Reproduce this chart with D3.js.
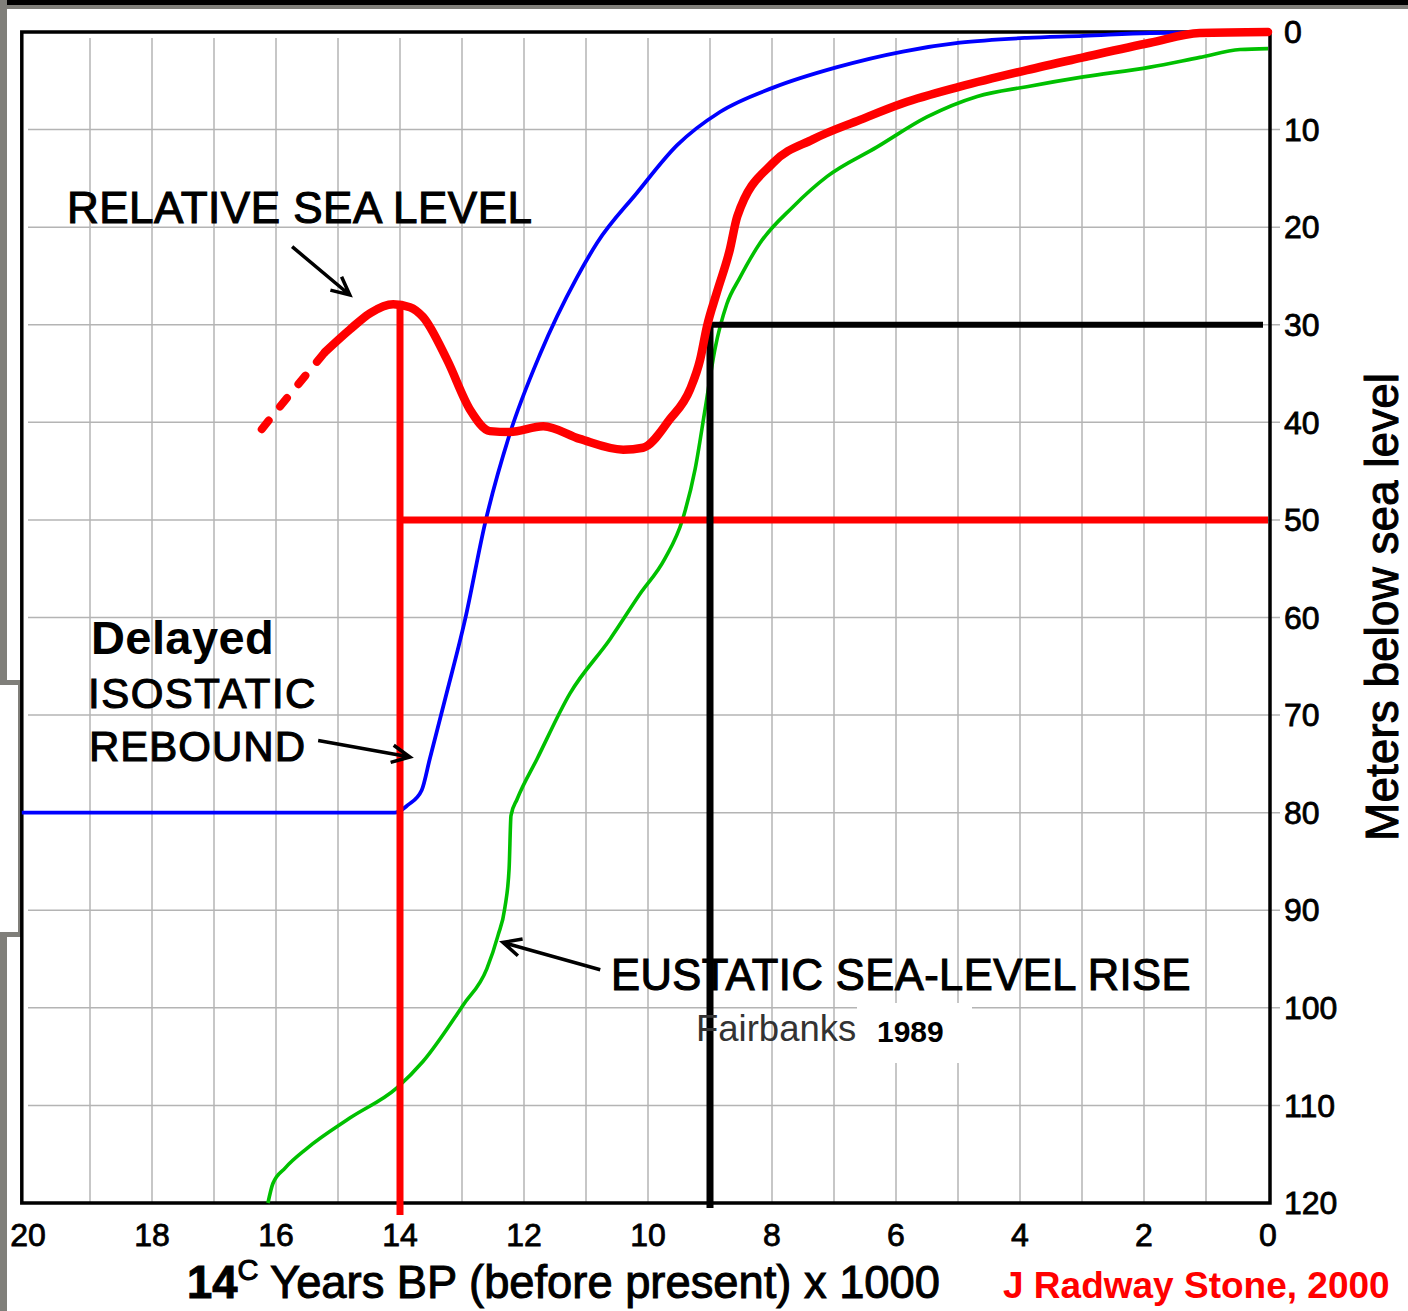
<!DOCTYPE html>
<html>
<head>
<meta charset="utf-8">
<script src="https://cdn.jsdelivr.net/npm/d3@7"></script>
<style>
body { margin: 0; background: #fff; }
svg { display: block; font-family: "Liberation Sans", Arial, sans-serif; }
</style>
</head>
<body>
<div id="chart"></div>
<script>
// ages in thousands of 14C years BP, depths in metres below sea level
var isoAge   = [20.1, 14.08, 13.87, 13.65, 13.52, 13.27, 12.95, 12.63, 12.23, 11.74, 11.15, 10.82, 10.18, 9.53, 8.84, 7.98, 6.95, 5.89, 4.97, 3.89, 2.98, 1.9, 0];
var isoDepth = [80, 80, 79.2, 77.7, 74.5, 68.3, 60.2, 50.4, 41.2, 33.0, 25.2, 21.6, 16.5, 11.6, 8.2, 5.7, 3.6, 2.0, 1.1, 0.6, 0.4, 0.1, 0];

var rslDashAge   = [16.23, 15.77, 15.21];
var rslDashDepth = [40.7, 37.1, 32.8];
var rslAge   = [15.21, 14.81, 14.48, 14.11, 13.84, 13.63, 13.24, 12.87, 12.55, 12.23, 11.69, 11.1, 10.4, 10.08, 9.65, 9.32, 9.16, 9.05, 8.89, 8.68, 8.56, 7.98, 7.34, 6.58, 5.89, 4.97, 3.89, 2.98, 1.9, 1.1, 0];
var rslDepth = [32.8, 30.5, 28.8, 27.9, 28.2, 29.2, 33.6, 38.7, 40.9, 41.0, 40.4, 41.7, 42.8, 42.6, 39.7, 36.6, 33.6, 30.2, 26.7, 22.3, 18.9, 13.4, 11.0, 9.0, 7.3, 5.6, 3.9, 2.6, 1.1, 0.1, 0];

var eusAge   = [16.13, 16.05, 15.85, 15.5, 14.81, 14.05, 13.63, 12.98, 12.6, 12.42, 12.31, 12.24, 12.21, 12.11, 11.79, 11.26, 10.61, 10.13, 9.73, 9.44, 9.24, 9.08, 8.92, 8.73, 8.52, 8.19, 7.66, 7.11, 6.31, 5.5, 4.69, 3.89, 2.98, 1.9, 1.1, 0.45, 0];
var eusDepth = [120, 118.0, 116.4, 114.4, 111.3, 108.2, 105.5, 99.7, 96.0, 92.6, 89.8, 85.7, 80.3, 78.6, 74.5, 67.8, 62.2, 57.6, 54.0, 49.9, 44.8, 38.7, 32.5, 27.9, 25.2, 21.6, 17.9, 14.8, 11.8, 8.7, 6.6, 5.6, 4.6, 3.6, 2.6, 1.8, 1.7];

// reading lines: red = 14 ka -> 50 m, black = 9 ka -> 30 m
var markAge   = [14, 9];
var markDepth = [50, 30];
var markTop   = [27.9, 30];

var xTicks = [20, 18, 16, 14, 12, 10, 8, 6, 4, 2, 0];
var yTicks = [0, 10, 20, 30, 40, 50, 60, 70, 80, 90, 100, 110, 120];

var width = 1408, height = 1311;
var x = d3.scaleLinear().domain([20, 0]).range([28, 1268]);
var y = d3.scaleLinear().domain([0, 120]).range([32, 1203]);

var svg = d3.select('#chart').append('svg')
  .attr('width', width)
  .attr('height', height);

// outer scan frame
svg.append('rect').attr('x', 0).attr('y', 0).attr('width', width).attr('height', 5).attr('fill', '#000');
svg.append('rect').attr('x', 0).attr('y', 5).attr('width', width).attr('height', 4).attr('fill', '#807f7a');
svg.append('rect').attr('x', 0).attr('y', 0).attr('width', 7).attr('height', height).attr('fill', '#807f7a');
svg.append('rect').attr('x', 0).attr('y', 680).attr('width', 23).attr('height', 257).attr('fill', '#807f7a');
svg.append('rect').attr('x', 0).attr('y', 685).attr('width', 18).attr('height', 247).attr('fill', '#fff');

// grid
var grid = svg.append('g').attr('stroke', '#b4b4b4').attr('stroke-width', 1.5);
grid.selectAll('.vg')
  .data(d3.range(1, 20))
  .enter().append('line')
  .attr('x1', function(d) { return x(d); })
  .attr('x2', function(d) { return x(d); })
  .attr('y1', y(0) + 6)
  .attr('y2', y(120));
grid.selectAll('.hg')
  .data(d3.range(10, 120, 10))
  .enter().append('line')
  .attr('x1', x(20))
  .attr('x2', x(0) + 12)
  .attr('y1', function(d) { return y(d); })
  .attr('y2', function(d) { return y(d); });

// plot frame
svg.append('path')
  .attr('d', 'M' + x(20.1) + ',' + y(0) + 'V' + y(120) + 'H' + (x(0) + 2) + 'V' + y(0) + 'Z')
  .attr('fill', 'none')
  .attr('stroke', '#000')
  .attr('stroke-width', 3.5);

// tick labels
var tickSize = 32;
svg.append('g').selectAll('text')
  .data(xTicks)
  .enter().append('text')
  .attr('x', function(d) { return x(d); })
  .attr('y', 1246)
  .attr('text-anchor', 'middle')
  .attr('font-size', tickSize)
  .attr('stroke', '#000').attr('stroke-width', 0.8)
  .text(function(d) { return d; });

svg.append('g').selectAll('text')
  .data(yTicks)
  .enter().append('text')
  .attr('x', 1284)
  .attr('y', function(d) { return y(d); })
  .attr('dy', '0.35em')
  .attr('font-size', tickSize)
  .attr('stroke', '#000').attr('stroke-width', 0.8)
  .text(function(d) { return d; });

// curves
var pts = function(a, b) { return a.map(function(v, i) { return [v, b[i]]; }); };
var line = d3.line()
  .x(function(d) { return x(d[0]); })
  .y(function(d) { return y(d[1]); })
  .curve(d3.curveMonotoneX);

svg.append('path').datum(pts(eusAge, eusDepth))
  .attr('d', line).attr('fill', 'none').attr('stroke', '#00c000').attr('stroke-width', 3.6);
svg.append('path').datum(pts(isoAge, isoDepth))
  .attr('d', line).attr('fill', 'none').attr('stroke', '#0000ff').attr('stroke-width', 3.8);

// reading lines
var markColor = ['#ff0000', '#000'];
markAge.forEach(function(a, i) {
  svg.append('line')
    .attr('x1', x(a)).attr('x2', x(a))
    .attr('y1', y(markTop[i])).attr('y2', y(120) + (i === 0 ? 12 : 5))
    .attr('stroke', markColor[i]).attr('stroke-width', 7);
  svg.append('line')
    .attr('x1', x(a)).attr('x2', x(0) - (i === 0 ? 0 : 5))
    .attr('y1', y(markDepth[i])).attr('y2', y(markDepth[i]))
    .attr('stroke', markColor[i]).attr('stroke-width', i === 0 ? 7 : 6);
});

svg.append('path').datum(pts(rslDashAge, rslDashDepth))
  .attr('d', line).attr('fill', 'none').attr('stroke', '#ff0000').attr('stroke-width', 8)
  .attr('stroke-linecap', 'round').attr('stroke-dasharray', '11 18');
svg.append('path').datum(pts(rslAge, rslDepth))
  .attr('d', line).attr('fill', 'none').attr('stroke', '#ff0000').attr('stroke-width', 8.5)
  .attr('stroke-linecap', 'round').attr('stroke-linejoin', 'round');

// annotation arrows (tail age/depth, tip age/depth)
var arrows = [
  [15.74, 22.0, 14.81, 26.95],
  [15.32, 72.6, 13.84, 74.3],
  [10.77, 96.1, 12.34, 93.3]
];
arrows.forEach(function(a) {
  var x0 = x(a[0]), y0 = y(a[1]), x1 = x(a[2]), y1 = y(a[3]);
  var ang = Math.atan2(y1 - y0, x1 - x0), L = 20, s = 0.45;
  var p = 'M' + x0 + ',' + y0 + 'L' + x1 + ',' + y1 +
    'M' + (x1 - L * Math.cos(ang - s)) + ',' + (y1 - L * Math.sin(ang - s)) +
    'L' + x1 + ',' + y1 +
    'L' + (x1 - L * Math.cos(ang + s)) + ',' + (y1 - L * Math.sin(ang + s));
  svg.append('path').attr('d', p).attr('fill', 'none').attr('stroke', '#000')
    .attr('stroke-width', 3.5).attr('stroke-linejoin', 'miter');
});

// labels
var label = function(t, px, py, size, opts) {
  opts = opts || {};
  var el = svg.append('text')
    .attr('x', px).attr('y', py)
    .attr('font-size', size)
    .attr('fill', opts.fill || '#000')
    .attr('font-weight', opts.bold ? 'bold' : 'normal')
    .text(t);
  if (opts.heavy) el.attr('stroke', opts.fill || '#000').attr('stroke-width', opts.heavy);
  if (opts.ls) el.attr('letter-spacing', opts.ls);
  return el;
};

svg.append('rect').attr('x', 857).attr('y', 1003).attr('width', 115).attr('height', 60).attr('fill', '#fff');

label('RELATIVE SEA LEVEL', 67, 223, 44, { heavy: 1.1, ls: 0.5 });
label('Delayed', 91, 654, 47, { bold: true, ls: 0.4 });
label('ISOSTATIC', 88, 708, 42, { heavy: 1.1, ls: 1.5 });
label('REBOUND', 89, 761, 42, { heavy: 1.1, ls: 1 });
label('EUSTATIC SEA-LEVEL RISE', 611, 990, 43.5, { heavy: 1.1, ls: 0.45 });
label('Fairbanks', 696, 1041, 36.5, { fill: '#333' });
label('1989', 877, 1042, 30, { bold: true });

var title = svg.append('text')
  .attr('x', 187).attr('y', 1298)
  .attr('font-size', 45.3)
  .attr('stroke', '#000').attr('stroke-width', 1);
title.append('tspan').attr('font-weight', 'bold').text('14');
title.append('tspan').attr('font-size', 29).attr('dy', -18).text('C');
title.append('tspan').attr('dy', 18).text(' Years BP (before present) x 1000');

label('J Radway Stone, 2000', 1003, 1298, 37, { bold: true, fill: '#ff0000' });

svg.append('text')
  .attr('transform', 'translate(1398,' + 607 + ') rotate(-90)')
  .attr('text-anchor', 'middle')
  .attr('font-size', 46)
  .attr('stroke', '#000').attr('stroke-width', 1)
  .text('Meters below sea level');
</script>
</body>
</html>
